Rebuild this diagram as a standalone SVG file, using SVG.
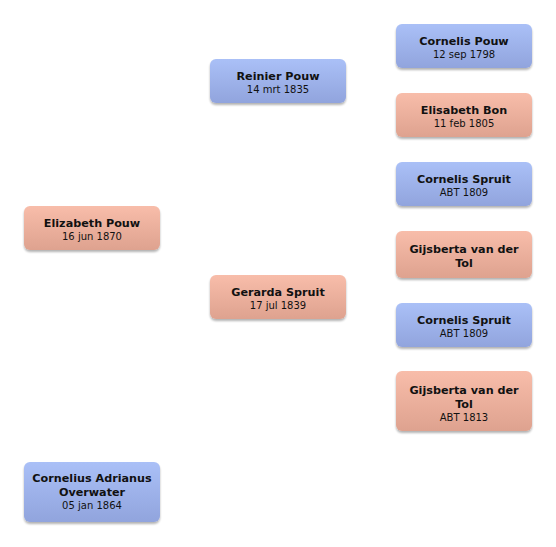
<svg xmlns="http://www.w3.org/2000/svg" width="556" height="547" viewBox="0 0 556 547">
<defs>
<linearGradient id="gb" x1="0" y1="0" x2="0" y2="1"><stop offset="0" stop-color="#aac0f7"/><stop offset="1" stop-color="#91a4dd"/></linearGradient>
<linearGradient id="gp" x1="0" y1="0" x2="0" y2="1"><stop offset="0" stop-color="#f8bdaa"/><stop offset="1" stop-color="#dea28f"/></linearGradient>
<filter id="sh" x="-10%" y="-10%" width="120%" height="130%"><feGaussianBlur in="SourceAlpha" stdDeviation="1.2"/><feOffset dy="1.5"/><feComponentTransfer><feFuncA type="linear" slope="0.3"/></feComponentTransfer><feMerge><feMergeNode/><feMergeNode in="SourceGraphic"/></feMerge></filter>
</defs>
<style>
.m{fill:url(#gb);filter:url(#sh)}
.f{fill:url(#gp);filter:url(#sh)}
text{font-family:"DejaVu Sans",Verdana,sans-serif;text-anchor:middle;fill:#111}
.n{font-size:11.2px;font-weight:bold}
.d{font-size:10px}
</style>
<rect width="556" height="547" fill="#ffffff"/>
<g id="connectors"></g>
<g id="elizabeth-pouw"><rect class="f" x="24" y="206" width="136" height="44" rx="6"/><text class="n" x="92" y="227">Elizabeth Pouw</text><text class="d" x="92" y="240">16 jun 1870</text></g>
<g id="cornelius-overwater"><rect class="m" x="24" y="462" width="136" height="60" rx="6"/><text class="n" x="92" y="482">Cornelius Adrianus</text><text class="n" x="92" y="496">Overwater</text><text class="d" x="92" y="509">05 jan 1864</text></g>
<g id="reinier-pouw"><rect class="m" x="210" y="59" width="136" height="44" rx="6"/><text class="n" x="278" y="80">Reinier Pouw</text><text class="d" x="278" y="93">14 mrt 1835</text></g>
<g id="gerarda-spruit"><rect class="f" x="210" y="275" width="136" height="44" rx="6"/><text class="n" x="278" y="296">Gerarda Spruit</text><text class="d" x="278" y="309">17 jul 1839</text></g>
<g id="cornelis-pouw"><rect class="m" x="396" y="24" width="136" height="44" rx="6"/><text class="n" x="464" y="45">Cornelis Pouw</text><text class="d" x="464" y="58">12 sep 1798</text></g>
<g id="elisabeth-bon"><rect class="f" x="396" y="93" width="136" height="44" rx="6"/><text class="n" x="464" y="114">Elisabeth Bon</text><text class="d" x="464" y="127">11 feb 1805</text></g>
<g id="cornelis-spruit-1"><rect class="m" x="396" y="162" width="136" height="44" rx="6"/><text class="n" x="464" y="183">Cornelis Spruit</text><text class="d" x="464" y="196">ABT 1809</text></g>
<g id="gijsberta-1"><rect class="f" x="396" y="231" width="136" height="47" rx="6"/><text class="n" x="464" y="253">Gijsberta van der</text><text class="n" x="464" y="267">Tol</text></g>
<g id="cornelis-spruit-2"><rect class="m" x="396" y="303" width="136" height="44" rx="6"/><text class="n" x="464" y="324">Cornelis Spruit</text><text class="d" x="464" y="337">ABT 1809</text></g>
<g id="gijsberta-2"><rect class="f" x="396" y="371" width="136" height="60" rx="6"/><text class="n" x="464" y="394">Gijsberta van der</text><text class="n" x="464" y="408">Tol</text><text class="d" x="464" y="421">ABT 1813</text></g>
</svg>
